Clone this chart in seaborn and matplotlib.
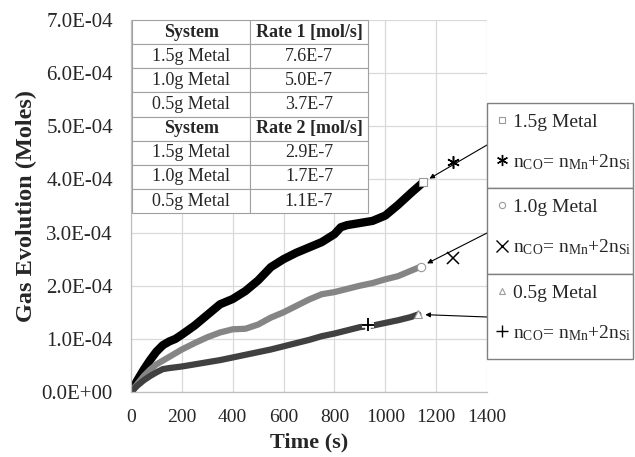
import numpy as np
import pandas as pd
import matplotlib
matplotlib.use("Agg")
import matplotlib.pyplot as plt
import matplotlib.patheffects as pe
from matplotlib.lines import Line2D
from matplotlib.patches import Rectangle
import seaborn as sns

# ===============================
# DATA
# ===============================

t_15 = [0, 25, 50, 75, 100, 125, 150, 175, 200, 250, 300, 350, 400, 450, 500,
        550, 600, 650, 700, 750, 800, 825, 850, 900, 950, 1000, 1050, 1100, 1150]
n_15 = [0.0, 0.22, 0.42, 0.60, 0.76, 0.88, 0.95, 1.00, 1.08, 1.25, 1.45, 1.65, 1.75, 1.90, 2.10,
        2.35, 2.50, 2.62, 2.72, 2.82, 2.97, 3.10, 3.14, 3.18, 3.22, 3.32, 3.52, 3.74, 3.95]

t_10 = [0, 25, 50, 75, 100, 125, 150, 200, 250, 300, 350, 400, 450, 500, 550,
        600, 650, 700, 750, 800, 850, 900, 950, 1000, 1050, 1100, 1140]
n_10 = [0.0, 0.15, 0.30, 0.42, 0.52, 0.59, 0.66, 0.80, 0.92, 1.03, 1.12, 1.18, 1.19, 1.27, 1.40,
        1.50, 1.62, 1.74, 1.84, 1.88, 1.94, 2.00, 2.05, 2.12, 2.18, 2.28, 2.36]

t_05 = [0, 25, 50, 75, 100, 125, 150, 200, 250, 300, 350, 400, 450, 500, 550,
        600, 650, 700, 750, 800, 850, 900, 950, 1000, 1050, 1100, 1130]
n_05 = [0.0, 0.12, 0.22, 0.30, 0.37, 0.43, 0.45, 0.48, 0.52, 0.56, 0.60, 0.65, 0.70, 0.75, 0.80,
        0.86, 0.92, 0.98, 1.05, 1.10, 1.16, 1.22, 1.25, 1.30, 1.35, 1.41, 1.46]

# theoretical n_CO = n_Mn + 2 n_Si points
theo_t = [1265, 1268, 933]
theo_n = [4.33, 2.53, 1.27]

systems = ["1.5g Metal", "1.0g Metal", "0.5g Metal"]
rate1 = ["7.6E-7", "5.0E-7", "3.7E-7"]
rate2 = ["2.9E-7", "1.7E-7", "1.1E-7"]

x_ticks = [0, 200, 400, 600, 800, 1000, 1200, 1400]
y_ticks = [0, 1e-4, 2e-4, 3e-4, 4e-4, 5e-4, 6e-4, 7e-4]

# ===============================
# STYLE
# ===============================

sns.set_theme(style="whitegrid")
plt.rcParams["font.family"] = ["Liberation Serif", "DejaVu Serif"]
plt.rcParams["mathtext.fontset"] = "custom"
plt.rcParams["mathtext.rm"] = "Liberation Serif"
plt.rcParams["mathtext.it"] = "Liberation Serif:italic"

colors = ["#000000", "#858585", "#404040"]
widths = [6.0, 4.5, 4.5]
end_markers = ["s", "o", "^"]
theo_markers = [(6, 2, 0), "x", "+"]

df = pd.concat([
    pd.DataFrame({"t": t_15, "n": np.array(n_15) * 1e-4, "sys": systems[0]}),
    pd.DataFrame({"t": t_10, "n": np.array(n_10) * 1e-4, "sys": systems[1]}),
    pd.DataFrame({"t": t_05, "n": np.array(n_05) * 1e-4, "sys": systems[2]}),
])

fig = plt.figure(figsize=(6.35, 4.57), dpi=100)
ax = fig.add_axes([131 / 635, 1 - 392 / 457, 356 / 635, 372 / 457])

for i, s in enumerate(systems):
    sns.lineplot(data=df[df["sys"] == s], x="t", y="n", color=colors[i],
                 linewidth=widths[i], ax=ax, legend=False, sort=False,
                 solid_capstyle="round", solid_joinstyle="round")

# end markers + theoretical markers
ends = [(t_15[-1], n_15[-1]), (t_10[-1], n_10[-1]), (t_05[-1], n_05[-1])]
for i in range(3):
    ax.plot(ends[i][0], ends[i][1] * 1e-4, marker=end_markers[i], ms=6,
            mfc="white", mec="#9a9a9a", mew=0.8, ls="none", zorder=6)
    pt, = ax.plot(theo_t[i], theo_n[i] * 1e-4, marker=theo_markers[i], ms=9,
                  mec="black", mfc="black", mew=1.1, ls="none", zorder=6)
    if theo_markers[i] == "+":
        pt.set_path_effects([pe.withStroke(linewidth=4, foreground="white"), pe.Normal()])

ax.set_xlim(0, 1400)
ax.set_ylim(0, 7e-4)
ax.set_xticks(x_ticks)
ax.set_yticks(y_ticks)
ax.set_xticklabels([str(v) for v in x_ticks], fontsize=14)
ax.set_yticklabels(["%.1E" % v for v in y_ticks], fontsize=15)
ax.tick_params(axis="x", pad=12, length=0)
ax.tick_params(axis="y", pad=13, length=0)
ax.grid(True, color="#d9d9d9", linewidth=0.9)
ax.set_facecolor("white")
for side in ["top", "right"]:
    ax.spines[side].set_visible(False)
for side in ["left", "bottom"]:
    ax.spines[side].set_color("#bfbfbf")
    ax.spines[side].set_linewidth(0.9)

ax.set_xlabel("Time (s)", fontsize=16, fontweight="bold", labelpad=5)
ax.set_ylabel("Gas Evolution (Moles)", fontsize=17.5, fontweight="bold", labelpad=3)

# ===============================
# RATE TABLE
# ===============================

cells = [["System", "Rate 1 [mol/s]"]] + [[s, r] for s, r in zip(systems, rate1)] \
      + [["System", "Rate 2 [mol/s]"]] + [[s, r] for s, r in zip(systems, rate2)]
tab = ax.table(cellText=cells, cellLoc="center",
               bbox=[0.003, 0.481, 0.663, 0.519], zorder=8)
tab.auto_set_font_size(False)
tab.set_fontsize(13)
for (r, c), cell in tab.get_celld().items():
    cell.set_edgecolor("#a0a0a0")
    cell.set_linewidth(0.8)
    cell.set_facecolor("white")
    if r in (0, 4):
        cell.get_text().set_fontweight("bold")

# ===============================
# LEGEND BOXES + ARROWS
# ===============================

nco = r"n$_{\mathrm{CO}}$= n$_{\mathrm{Mn}}$+2n$_{\mathrm{Si}}$"
box_tops = [103, 188, 274]
box_h = [85, 86, 85]
arrow_y = [145, 233, 317]
for i in range(3):
    fig.add_artist(Rectangle((487 / 635, 1 - (box_tops[i] + box_h[i]) / 457),
                             146 / 635, box_h[i] / 457, transform=fig.transFigure,
                             facecolor="white", edgecolor="#808080", linewidth=1.0))
    handles = [
        Line2D([], [], marker=end_markers[i], ms=4.5, mfc="white", mec="#9a9a9a", mew=0.8, ls="none"),
        Line2D([], [], marker=theo_markers[i], ms=8, mfc="black", mec="black", mew=1.0, ls="none"),
    ]
    fig.legend(handles, [systems[i], nco], loc="center left",
               bbox_to_anchor=(496 / 635, 1 - (box_tops[i] + box_h[i] / 2 - 3) / 457),
               fontsize=14, frameon=False, borderpad=0, labelspacing=1.1,
               handlelength=0.6, handletextpad=0.28, borderaxespad=0)
    ax.annotate("", xy=(ends[i][0], ends[i][1] * 1e-4),
                xytext=(487 / 635, 1 - arrow_y[i] / 457), textcoords="figure fraction",
                arrowprops=dict(arrowstyle="-|>", color="black", lw=0.8,
                                mutation_scale=7, shrinkA=0, shrinkB=5),
                zorder=7, annotation_clip=False)

fig.savefig("out.png", dpi=100)
plt.close(fig)
